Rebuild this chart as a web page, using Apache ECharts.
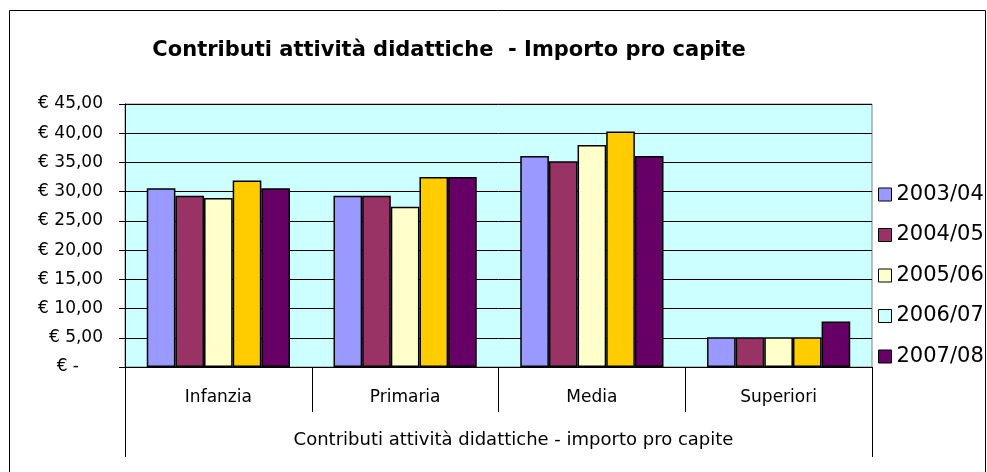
<!DOCTYPE html>
<html>
<head>
<meta charset="utf-8">
<script src="https://cdn.jsdelivr.net/npm/echarts@6/dist/echarts.min.js"></script>
<style>
  html, body { margin: 0; padding: 0; background: #fff; }
  #chart { width: 987px; height: 472px; }
</style>
</head>
<body>
<div id="chart"></div>
<script>
// dati
const categories = ['Infanzia', 'Primaria', 'Media', 'Superiori'];
const groupLabel = ['Contributi attività didattiche - importo pro capite'];
const years = ['2003/04', '2004/05', '2005/06', '2006/07', '2007/08'];
const v2003 = [30.6, 29.3, 36.1, 5.1];
const v2004 = [29.3, 29.3, 35.2, 5.1];
const v2005 = [28.9, 27.4, 38.0, 5.1];
const v2006 = [31.9, 32.5, 40.3, 5.1];
const v2007 = [30.6, 32.5, 36.1, 7.8];
const yTicks = [0, 5, 10, 15, 20, 25, 30, 35, 40, 45];

const barColors = ['#9999FF', '#993366', '#FFFFCC', '#FFCC00', '#660066'];
const legendColors = ['#9999FF', '#993366', '#FFFFCC', '#CCFFFF', '#660066'];
const values = [v2003, v2004, v2005, v2006, v2007];

// testo leggermente "allargato" come nell'originale
const font = 'DejaVu Sans, Arial, sans-serif';

const chart = echarts.init(document.getElementById('chart'));
const option = {
    animation: false,
    textStyle: { fontFamily: font },
    title: {
        text: 'Contributi attività didattiche  - Importo pro capite',
        left: 444,
        top: 35,
        textAlign: 'center',
        textStyle: { fontSize: 21, fontWeight: 'bold', color: '#000', fontFamily: font }
    },
    graphic: [{
        type: 'rect',
        shape: { x: 9.5, y: 10.5, width: 976, height: 480 },
        style: { fill: 'none', stroke: '#000', lineWidth: 1 },
        z: 0
    }],
    legend: {
        orient: 'vertical',
        left: 873,
        top: 179,
        itemWidth: 13,
        itemHeight: 13,
        itemGap: 19.5,
        icon: 'rect',
        textStyle: { fontSize: 21, lineHeight: 20, color: '#000', fontFamily: font },
        data: years.map((y, i) => ({
            name: y,
            itemStyle: { color: legendColors[i], borderColor: '#000', borderWidth: 1 }
        }))
    },
    grid: {
        left: 125,
        top: 104,
        width: 747,
        height: 263,
        show: true,
        backgroundColor: '#CCFFFF',
        borderColor: '#808080',
        borderWidth: 1
    },
    xAxis: [{
        type: 'category',
        data: categories,
        position: 'bottom',
        axisLine: { lineStyle: { color: '#000' } },
        axisTick: { show: true, interval: 0, length: 45, lineStyle: { color: '#000' } },
        axisLabel: { margin: 22, fontSize: 17, color: '#000', fontFamily: font }
    }, {
        type: 'category',
        data: groupLabel,
        position: 'bottom',
        axisLine: { show: false },
        axisTick: { show: true, length: 90, lineStyle: { color: '#000' } },
        axisLabel: { margin: 64, fontSize: 18, color: '#000', fontFamily: font, padding: [0, 0, 0, 30] }
    }],
    yAxis: {
        type: 'value',
        min: yTicks[0],
        max: yTicks[yTicks.length - 1],
        interval: 5,
        axisLine: { show: true, lineStyle: { color: '#000' } },
        axisTick: { show: true, length: 6, lineStyle: { color: '#000' } },
        splitLine: { show: true, lineStyle: { color: '#000', width: 1 } },
        axisLabel: {
            margin: 22,
            fontSize: 17,
            color: '#000',
            fontFamily: font,
            formatter: function (v) {
                if (v === 0) return '{z|€ -}';
                return '€ ' + v.toFixed(2).replace('.', ',');
            },
            rich: {
                z: { fontSize: 17, color: '#000', fontFamily: font, padding: [0, 24, 0, 0] }
            }
        }
    },
    series: years.map((y, i) => ({
        name: y,
        type: 'bar',
        xAxisIndex: 0,
        data: values[i],
        barGap: '0%',
        barCategoryGap: '23.3%',
        itemStyle: { color: barColors[i], borderColor: '#000', borderWidth: 1.5 }
    }))
};
chart.setOption(option);
</script>
</body>
</html>
